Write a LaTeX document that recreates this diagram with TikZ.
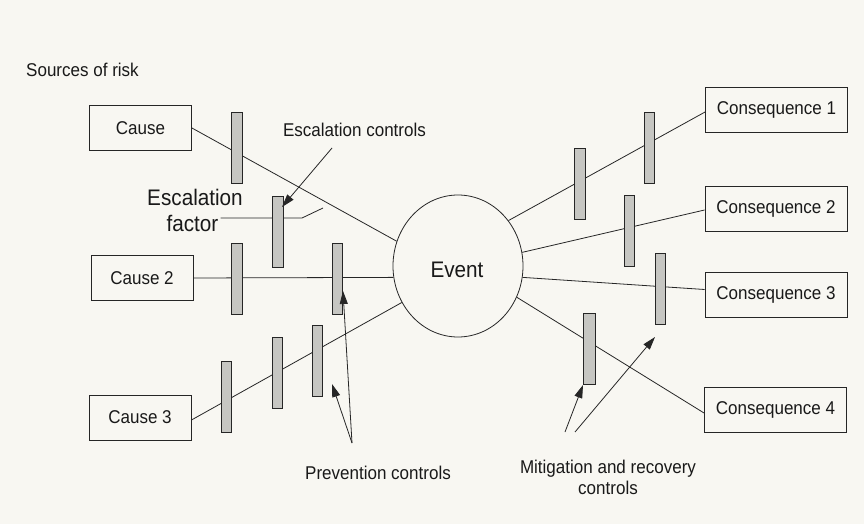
\documentclass[tikz,border=0pt]{standalone}
\usepackage{fontspec}
\setmainfont[FakeStretch=0.92]{Liberation Sans}
\usetikzlibrary{arrows.meta,shapes.geometric}
\definecolor{paper}{RGB}{248,247,242}
\definecolor{ink}{RGB}{38,38,38}
\definecolor{textink}{RGB}{25,25,25}
\definecolor{barfill}{RGB}{198,198,194}
\begin{document}
\begin{tikzpicture}[x=1pt,y=-1pt,
  every node/.style={font=\fontsize{18.5}{21}\selectfont, text=textink, inner sep=0pt},
  box/.style={draw=ink, line width=0.9pt, minimum height=45pt},
  causebox/.style={box, minimum width=102pt},
  conbox/.style={box, minimum width=142pt},
  evt/.style={ellipse, draw=ink, line width=0.8pt, minimum width=130pt, minimum height=142pt},
  ctrl/.style={draw=ink, fill=barfill, line width=0.8pt, minimum width=10.5pt, minimum height=71pt},
  link/.style={draw=ink, line width=0.8pt},
  ptr/.style={draw=ink, line width=0.8pt, -{Triangle[length=13pt,width=8pt]}},
  bigtext/.style={font=\fontsize{22.5}{26}\selectfont}
]
\useasboundingbox (0,0) rectangle (864,524);
\fill[paper] (0,0) rectangle (864,524);

% title
\node (src) at (82.5,70) {Sources of risk};

% causes, event, consequences
\node[causebox] (c1) at (140.5,128) {Cause};
\node[causebox] (c2) at (142,278) {Cause 2};
\node[causebox] (c3) at (140,417.5) {Cause 3};
\node[evt] (ev) at (458,266) {};
\node[bigtext] (evl) at (457,270) {Event};
\node[conbox] (q1) at (776.5,110) {Consequence 1};
\node[conbox] (q2) at (776,208.5) {Consequence 2};
\node[conbox] (q3) at (776,294.5) {Consequence 3};
\node[conbox] (q4) at (775.5,409.5) {Consequence 4};

% threat and consequence lines
\draw[link] (c1.east) -- (ev.158);
\draw[link] (c2.east) -- (ev.190.6);
\draw[link] ([yshift=-2.5pt]c3.east) -- (ev.213.5);
\draw[link] (ev.42) -- ([yshift=-2pt]q1.west);
\draw[link] (ev.12) -- ([yshift=-1.5pt]q2.west);
\draw[link] (ev.350) -- ([yshift=5pt]q3.west);
\draw[link] (ev.332) -- ([yshift=-3.5pt]q4.west);

% escalation factor
\node[bigtext] (esc1) at (195,197) {Escalation};
\node[bigtext] (esc2) at (192.5,223) {factor};
\coordinate (efk) at (302,218);
\coordinate (eft) at (323,208);
\draw[link] ([xshift=2pt]esc2.east |- efk) -- (efk) -- (eft);

% control barriers
\node[ctrl] (b1) at (237,148) {};
\node[ctrl] (ef) at (278,231.5) {};
\node[ctrl] (b2a) at (237,278.5) {};
\node[ctrl] (b2b) at (337.5,278.5) {};
\node[ctrl] (b3a) at (226.5,396.5) {};
\node[ctrl] (b3b) at (277.5,372.5) {};
\node[ctrl] (b3c) at (317.5,361) {};
\node[ctrl] (r1a) at (580,183.5) {};
\node[ctrl] (r1b) at (649.5,147.5) {};
\node[ctrl] (r2) at (629.5,230.5) {};
\node[ctrl] (r3) at (660.5,289) {};
\node[ctrl, minimum width=12pt] (r4) at (589.5,348.5) {};

% labels and pointers
\node (ecl) at (354.5,130) {Escalation controls};
\coordinate (ecs) at (332,148);
\coordinate (ect) at (282,207);
\draw[ptr] (ecs) -- (ect);

\node (pcl) at (378,473) {Prevention controls};
\coordinate (pcs) at (352,443);
\coordinate (pct1) at (343,291);
\coordinate (pct2) at (332,384);
\draw[ptr] (pcs) -- (pct1);
\draw[ptr] (pcs) -- (pct2);

\node[align=center] (mcl) at (608,477.5) {Mitigation and recovery\\controls};
\coordinate (mcs1) at (565,432);
\coordinate (mcs2) at (575,432);
\coordinate (mct1) at (583,385);
\coordinate (mct2) at (655,337);
\draw[ptr] (mcs1) -- (mct1);
\draw[ptr] (mcs2) -- (mct2);
\end{tikzpicture}
\end{document}
